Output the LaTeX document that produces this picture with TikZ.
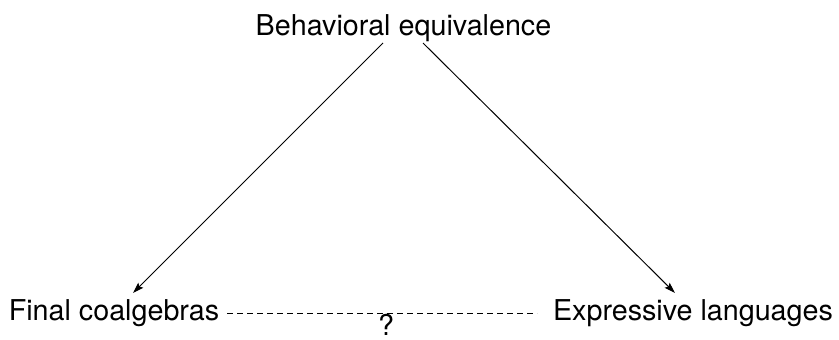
\documentclass[tikz,border=0pt]{standalone}
\usepackage{fontspec}
\setmainfont{TeX Gyre Heros}
\usetikzlibrary{arrows.meta,calc}
\begin{document}
\begin{tikzpicture}[x=1pt,y=1pt,
  lbl/.style={inner sep=0pt,font=\fontsize{28.7}{34}\selectfont},
  conn/.style={line width=1pt,-{Stealth[length=11pt,width=7pt,inset=2pt]}},
  dashline/.style={line width=1pt,dash pattern=on 6pt off 4pt}]
\useasboundingbox (0,0) rectangle (839,-340);
\node[lbl,anchor=base] (top) at (403.5,-35) {Behavioral equivalence};
\node[lbl,anchor=base] (final) at (114,-320) {Final coalgebras};
\node[lbl,anchor=base] (expr) at (693,-320) {Expressive languages};
\node[lbl,anchor=base] (q) at (386,-335) {?};
\draw[conn] ($(top.base)+(-20.5,-8)$) -- ($(final.base)+(19,27)$);
\draw[conn] ($(top.base)+(19.5,-8)$) -- ($(expr.base)+(-18,27)$);
\draw[dashline] ($(final.base)+(113,7)$) -- ($(expr.base)+(-156,7)$);
\end{tikzpicture}
\end{document}
